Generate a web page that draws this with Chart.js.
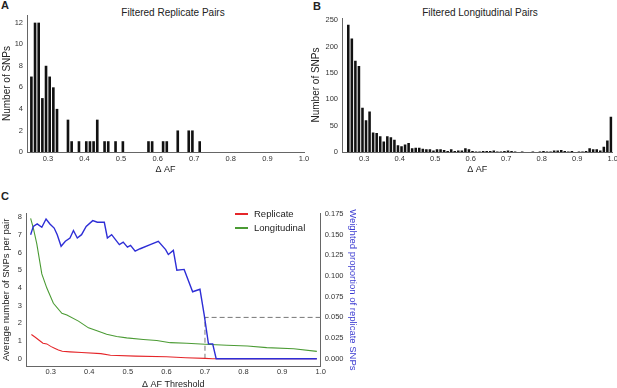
<!DOCTYPE html>
<html lang="en">
<head>
<meta charset="UTF-8">
<title>Delta AF of filtered replicate and longitudinal pairs</title>
<script src="https://cdn.jsdelivr.net/npm/chart.js"></script>
<style>
  html, body { margin: 0; padding: 0; background: #fff; overflow: hidden; }
  body { width: 617px; height: 388px; position: relative; font-family: 'Liberation Sans', Arial, sans-serif; color: #222; }
  canvas { position: absolute; }
  .panel { position: absolute; font-weight: bold; font-size: 11px; line-height: 12px; }
  .title { position: absolute; width: 200px; text-align: center; font-size: 10px; line-height: 12px; }
  .legend { position: absolute; left: 235px; font-size: 9.5px; line-height: 12px; white-space: nowrap; }
  .swatch { display: inline-block; width: 13px; height: 2px; vertical-align: middle; margin-right: 6px; }
</style>
</head>
<body>
  <div class="panel" style="left:1px;top:-1px">A</div>
  <div class="panel" style="left:313px;top:0px">B</div>
  <div class="panel" style="left:1px;top:190px">C</div>
  <div class="title" style="left:73px;top:7px">Filtered Replicate Pairs</div>
  <div class="title" style="left:380px;top:7px">Filtered Longitudinal Pairs</div>

  <canvas id="chartA" width="310" height="175" style="left:0;top:0"></canvas>
  <canvas id="chartB" width="307" height="175" style="left:310px;top:0"></canvas>
  <canvas id="chartC" width="360" height="190" style="left:0;top:200px"></canvas>

  <div class="legend" style="top:208px"><span class="swatch" id="swRep"></span>Replicate</div>
  <div class="legend" style="top:222px"><span class="swatch" id="swLong"></span>Longitudinal</div>

<script>
// histogram bins (0.01 wide), given by their centres
const binCentres = [
  0.255, 0.265, 0.275, 0.285, 0.295, 0.305, 0.315, 0.325, 0.335, 0.345,
  0.355, 0.365, 0.375, 0.385, 0.395, 0.405, 0.415, 0.425, 0.435, 0.445,
  0.455, 0.465, 0.475, 0.485, 0.495, 0.505, 0.515, 0.525, 0.535, 0.545,
  0.555, 0.565, 0.575, 0.585, 0.595, 0.605, 0.615, 0.625, 0.635, 0.645,
  0.655, 0.665, 0.675, 0.685, 0.695, 0.705, 0.715, 0.725, 0.735, 0.745,
  0.755, 0.765, 0.775, 0.785, 0.795, 0.805, 0.815, 0.825, 0.835, 0.845,
  0.855, 0.865, 0.875, 0.885, 0.895, 0.905, 0.915, 0.925, 0.935, 0.945,
  0.955, 0.965, 0.975, 0.985, 0.995
];
const replicateCounts = [
  7, 12, 12, 5, 8, 7, 6, 4, 0, 0,
  3, 1, 0, 1, 0, 1, 1, 1, 3, 0,
  1, 1, 0, 1, 0, 1, 0, 0, 0, 0,
  0, 0, 1, 1, 0, 0, 1, 1, 0, 0,
  2, 0, 0, 2, 2, 0, 1, 0, 0, 0,
  0, 0, 0, 0, 0, 0, 0, 0, 0, 0,
  0, 0, 0, 0, 0, 0, 0, 0, 0, 0,
  0, 0, 0, 0, 0
];
const longitudinalCounts = [
  241, 215, 173, 163, 84, 60, 77, 37, 36, 30,
  20, 30, 28, 23, 13, 11, 14, 17, 7, 8,
  8, 6, 5, 5, 3, 5, 5, 4, 2, 5,
  2, 3, 3, 7, 5, 2, 1, 1, 2, 2,
  2, 3, 1, 1, 2, 3, 2, 1, 0, 1,
  0, 0, 1, 0, 1, 2, 1, 1, 3, 3,
  4, 2, 1, 2, 0, 1, 1, 2, 7, 5,
  5, 3, 10, 22, 67
];

// panel C: per-threshold curves
const replicateX = [0.25, 0.26, 0.27, 0.28, 0.29, 0.30, 0.31, 0.32, 0.33, 0.35, 0.38, 0.43, 0.455, 0.52, 0.60, 0.65, 0.70, 0.72, 0.99];
const replicateY = [1.37, 1.22, 1.05, 0.88, 0.84, 0.70, 0.60, 0.50, 0.42, 0.39, 0.35, 0.29, 0.20, 0.15, 0.11, 0.06, 0.02, 0, 0];

const longitudinalX = [0.248, 0.255, 0.264, 0.277, 0.29, 0.307, 0.329, 0.342, 0.372, 0.398, 0.42, 0.445, 0.471, 0.497, 0.54, 0.575, 0.61, 0.653, 0.70, 0.757, 0.81, 0.86, 0.93, 0.99];
const longitudinalY = [7.95, 7.4, 6.5, 4.8, 4.0, 3.14, 2.57, 2.48, 2.13, 1.75, 1.58, 1.39, 1.26, 1.18, 1.09, 1.03, 0.91, 0.88, 0.82, 0.76, 0.72, 0.63, 0.57, 0.42];

const weightedX = [0.248, 0.255, 0.265, 0.277, 0.288, 0.298, 0.309, 0.317, 0.327, 0.338, 0.350, 0.359, 0.369, 0.380, 0.392, 0.409, 0.421, 0.439, 0.447, 0.458,
                   0.478, 0.488, 0.499, 0.507, 0.519, 0.532, 0.558, 0.579, 0.598, 0.605, 0.618, 0.627, 0.646, 0.668, 0.687, 0.698, 0.709, 0.720, 0.729, 0.990];
const weightedY = [0.150, 0.160, 0.163, 0.159, 0.169, 0.163, 0.158, 0.150, 0.136, 0.142, 0.146, 0.155, 0.146, 0.150, 0.160, 0.167, 0.165, 0.165, 0.146, 0.150,
                   0.138, 0.141, 0.135, 0.137, 0.130, 0.133, 0.138, 0.142, 0.132, 0.126, 0.131, 0.107, 0.108, 0.081, 0.084, 0.053, 0.018, 0.018, 0, 0];

// chosen threshold and the proportion it gives
const cutoffX = [0.7, 0.7, 1.0];
const cutoffY = [0, 0.05, 0.05];

// tick labels
const afTicks = [0.3, 0.4, 0.5, 0.6, 0.7, 0.8, 0.9, 1.0];
const replicateTicks = [0, 2, 4, 6, 8, 10, 12];
const longitudinalTicks = [0, 50, 100, 150, 200, 250];
const avgTicks = [0, 1, 2, 3, 4, 5, 6, 7, 8];
const propTicks = [0, 0.025, 0.05, 0.075, 0.1, 0.125, 0.15, 0.175];

const colours = { replicate: '#e5262a', longitudinal: '#4b9b34', weighted: '#2e2ed6', axis: '#666' };

Chart.defaults.font.family = "'Liberation Sans', Arial, Helvetica, sans-serif";
Chart.defaults.color = '#333';

document.getElementById('swRep').style.background = colours.replicate;
document.getElementById('swLong').style.background = colours.longitudinal;

const toPoints = (xs, ys) => xs.map((x, i) => ({ x: x, y: ys[i] }));
const setTicks = list => s => { s.ticks = list.map(v => ({ value: v })); };

function histogram(id, counts, o) {
  return new Chart(document.getElementById(id), {
    type: 'bar',
    data: {
      datasets: [{
        data: toPoints(binCentres, counts),
        backgroundColor: '#111',
        barPercentage: 0.72,
        categoryPercentage: 1
      }]
    },
    options: {
      responsive: false,
      animation: false,
      layout: { padding: { top: o.top, right: o.right, left: 0, bottom: 0 } },
      plugins: { legend: { display: false }, tooltip: { enabled: false } },
      scales: {
        x: {
          type: 'linear', min: o.xMin, max: 1.0, offset: false,
          grid: { display: false, drawTicks: false },
          border: { color: colours.axis },
          afterBuildTicks: setTicks(afTicks),
          afterFit: s => { s.height = 23; s.paddingLeft = 0; s.paddingRight = 0; },
          ticks: { font: { size: 7.5 }, padding: 2, maxRotation: 0, autoSkip: false, callback: v => v.toFixed(1) },
          title: { display: true, text: 'Δ AF', color: '#222', font: { size: 9 }, padding: 0 }
        },
        y: {
          min: 0, max: o.yMax,
          grid: { display: false, drawTicks: false },
          border: { color: colours.axis },
          afterBuildTicks: setTicks(o.yTicks),
          afterFit: s => { s.width = o.yWidth; },
          ticks: { font: { size: 7.5 }, padding: 4 },
          title: { display: true, text: 'Number of SNPs', color: '#222', font: { size: 10 }, padding: { top: o.titlePad, bottom: 0 } }
        }
      }
    }
  });
}

histogram('chartA', replicateCounts, { xMin: 0.243, yMax: 12.71, top: 15, right: 6, yWidth: 27, yTicks: replicateTicks, titlePad: 1 });
histogram('chartB', longitudinalCounts, { xMin: 0.2373, yMax: 254, top: 18, right: 4.3, yWidth: 32, yTicks: longitudinalTicks, titlePad: 0 });

new Chart(document.getElementById('chartC'), {
  type: 'line',
  data: {
    datasets: [
      { label: 'Weighted proportion', data: toPoints(weightedX, weightedY), yAxisID: 'y1', borderColor: colours.weighted, borderWidth: 1.4 },
      { label: 'Replicate', data: toPoints(replicateX, replicateY), yAxisID: 'y', borderColor: colours.replicate, borderWidth: 1.1 },
      { label: 'Longitudinal', data: toPoints(longitudinalX, longitudinalY), yAxisID: 'y', borderColor: colours.longitudinal, borderWidth: 1.1 },
      { label: 'Cut-off', data: toPoints(cutoffX, cutoffY), yAxisID: 'y1', borderColor: '#777', borderWidth: 1, borderDash: [5, 3] }
    ]
  },
  options: {
    responsive: false,
    animation: false,
    elements: { point: { radius: 0 }, line: { tension: 0, fill: false } },
    layout: { padding: { top: 13, right: 0, left: 0, bottom: 0 } },
    plugins: { legend: { display: false }, tooltip: { enabled: false } },
    scales: {
      x: {
        type: 'linear', min: 0.236, max: 1.0, offset: false,
        grid: { display: false, drawTicks: false },
        border: { color: colours.axis },
        afterBuildTicks: setTicks(afTicks),
        afterFit: s => { s.height = 23.3; s.paddingLeft = 0; s.paddingRight = 0; },
        ticks: { font: { size: 7.5 }, padding: 1, maxRotation: 0, autoSkip: false, callback: v => v.toFixed(1) },
        title: { display: true, text: 'Δ AF Threshold', color: '#222', font: { size: 9 }, padding: 0 }
      },
      y: {
        position: 'left', min: -0.45, max: 8.25,
        grid: { display: false, drawTicks: false },
        border: { color: colours.axis },
        afterBuildTicks: setTicks(avgTicks),
        afterFit: s => { s.width = 26; },
        ticks: { font: { size: 7.5 }, padding: 4 },
        title: { display: true, text: 'Average number of SNPs per pair', color: '#222', font: { size: 9.5 }, padding: { top: 1, bottom: 0 } }
      },
      y1: {
        position: 'right', min: -0.0096, max: 0.1762,
        grid: { display: false, drawTicks: false },
        border: { color: colours.axis },
        afterBuildTicks: setTicks(propTicks),
        afterFit: s => { s.width = 39.3; },
        ticks: { font: { size: 7.5 }, padding: 4, callback: v => v.toFixed(3) },
        title: { display: true, text: 'Weighted proportion of replicate SNPs', color: '#3b3bd1', font: { size: 9.5 }, padding: { top: 1.3, bottom: 0 } }
      }
    }
  }
});
</script>
</body>
</html>
